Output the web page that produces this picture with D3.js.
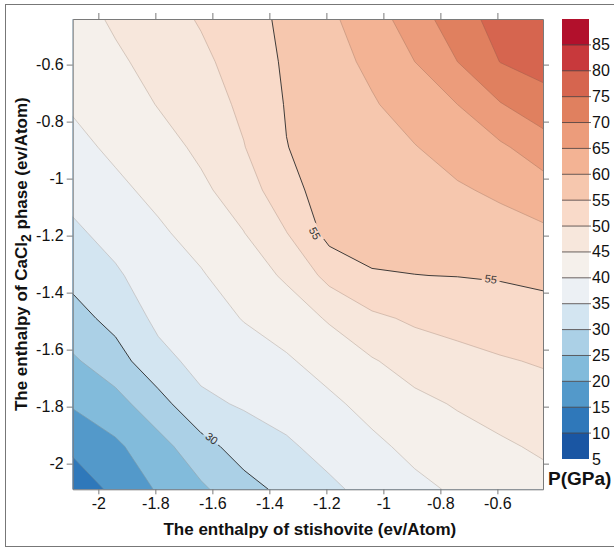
<!DOCTYPE html>
<html><head><meta charset="utf-8">
<script src="https://cdn.jsdelivr.net/npm/d3@7"></script>
<style>
body{margin:0;background:#fff}
svg{display:block}
text{font-family:"Liberation Sans",Arial,sans-serif;fill:#111}
</style>
</head><body>
<svg id="chart" width="614" height="549"></svg>
<script>
// ---- data ----
const xGrid = [-2.09,-1.94,-1.79,-1.64,-1.49,-1.34,-1.19,-1.04,-0.89,-0.74,-0.59,-0.44];
const yGrid = [-0.44,-0.59,-0.74,-0.89,-1.04,-1.19,-1.34,-1.49,-1.64,-1.79,-1.94,-2.09]; // top -> bottom
const pressure = [
  [43.0,45.7,48.0,50.4,53.1,56.0,59.1,62.8,67.5,73.0,76.7,79.5],
  [41.8,44.2,46.6,49.0,52.0,55.7,58.1,61.1,65.0,70.0,75.1,76.8],
  [40.5,42.5,45.2,47.5,51.0,55.3,57.3,59.5,62.3,65.0,69.7,73.1],
  [38.7,40.9,43.2,45.9,49.8,54.9,56.8,58.2,59.8,62.1,64.2,67.6],
  [36.5,39.0,41.2,44.1,47.3,53.5,57.0,57.1,58.2,59.4,60.9,62.9],
  [34.1,36.7,39.3,41.7,44.9,49.9,56.6,56.0,56.6,57.2,58.0,59.1],
  [31.4,34.3,37.7,39.6,42.5,45.7,51.5,54.8,54.95,55.1,55.4,56.0],
  [28.1,31.6,36.1,38.0,40.2,42.4,45.5,49.0,50.8,51.7,52.5,53.2],
  [24.3,27.9,33.5,36.4,38.0,39.4,42.0,44.6,47.0,48.5,49.6,50.4],
  [20.5,23.2,28.1,34.0,35.5,36.9,39.0,41.6,43.8,45.4,46.9,48.1],
  [16.1,19.1,23.2,28.1,32.3,34.3,36.6,38.9,41.3,43.0,44.3,45.7],
  [11.6,16.3,20.5,24.2,28.1,31.4,34.1,36.5,38.8,40.7,41.9,43.4]
];
const levels = [5,10,15,20,25,30,35,40,45,50,55,60,65,70,75,80,85,90];
const bandColors = ["#1a56a3","#2f78ba","#5399ca","#82bbdb","#abd0e6","#d3e5f1","#ecf0f4",
  "#f5f0eb","#f7e7dc","#f9dac9","#f6c7ae","#f3b394","#ec9c7b","#e0805f","#d6654f","#c8393c","#b2102c"];
const axisTicks = [-2,-1.8,-1.6,-1.4,-1.2,-1,-0.8,-0.6];
const labelledLevels = [30,55];
const lineLabels = [
  {level:55, x:-1.240, y:-1.192, angle:62},
  {level:55, x:-0.623, y:-1.352, angle:8},
  {level:30, x:-1.602, y:-1.911, angle:38}
];
const xTitle = "The enthalpy of stishovite (ev/Atom)";
const cbTitle = "P(GPa)";

// ---- layout ----
const svg = d3.select("#chart");
const L = 72.7, R = 543, T = 19, B = 489.3;
const x = d3.scaleLinear().domain([-2.09,-0.44]).range([L,R]);
const y = d3.scaleLinear().domain([-2.09,-0.44]).range([B,T]);

// outer frame
svg.append("rect").attr("x",5.5).attr("y",4.5).attr("width",700).attr("height",542)
  .attr("fill","none").attr("stroke","#777").attr("stroke-width",1);

const defs = svg.append("defs");
defs.append("clipPath").attr("id","plotclip").append("rect")
  .attr("x",L).attr("y",T).attr("width",R-L).attr("height",B-T);

// ---- contours ----
const n = xGrid.length, m = yGrid.length;
const values = pressure.flat();
const contours = d3.contours().size([n,m]).thresholds(levels.slice(0,-1))(values);
const dxs = xGrid[1]-xGrid[0], dys = yGrid[1]-yGrid[0];
const proj = d3.geoTransform({point:function(cx,cy){
  this.stream.point(x(xGrid[0]+(cx-0.5)*dxs), y(yGrid[0]+(cy-0.5)*dys));
}});
const path = d3.geoPath(proj);

const g = svg.append("g").attr("clip-path","url(#plotclip)");
g.selectAll("path.band").data(contours).join("path").attr("class","band")
  .attr("d",path)
  .attr("fill",d=>bandColors[levels.indexOf(d.value)]);

// thin contour lines
g.selectAll("path.line").data(contours.filter(d=>d.value>levels[0] && !labelledLevels.includes(d.value)))
  .join("path").attr("class","line")
  .attr("d",path).attr("fill","none")
  .attr("stroke",d=>d3.interpolateRgb(bandColors[levels.indexOf(d.value)],"#6a5a50")(0.35))
  .attr("stroke-width",0.7);

// labelled lines with gaps
const mask = defs.append("mask").attr("id","lblmask").attr("maskUnits","userSpaceOnUse")
  .attr("x",0).attr("y",0).attr("width",614).attr("height",549);
mask.append("rect").attr("width",614).attr("height",549).attr("fill","#fff");
mask.selectAll("rect.gap").data(lineLabels).join("rect").attr("class","gap")
  .attr("x",-9).attr("y",-6).attr("width",18).attr("height",12).attr("fill","#000")
  .attr("transform",d=>`translate(${x(d.x)},${y(d.y)}) rotate(${d.angle})`);
g.append("g").attr("mask","url(#lblmask)")
  .selectAll("path").data(contours.filter(d=>labelledLevels.includes(d.value)))
  .join("path").attr("d",path).attr("fill","none").attr("stroke","#2a2a2a").attr("stroke-width",0.9);
svg.selectAll("text.clabel").data(lineLabels).join("text").attr("class","clabel")
  .attr("transform",d=>`translate(${x(d.x)},${y(d.y)}) rotate(${d.angle})`)
  .attr("text-anchor","middle").attr("dominant-baseline","central")
  .style("font-size","11px").style("fill","#333").text(d=>d.level);

// ---- axes ----
const fmt = d=>String(d);
function styleAxis(sel){
  sel.selectAll("path.domain").attr("stroke","#7a7a7a");
  sel.selectAll(".tick line").attr("stroke","#7a7a7a");
  sel.selectAll(".tick text").style("font-size","16px").style("fill","#111")
    .style("font-family",'"Liberation Sans",Arial,sans-serif');
}
svg.append("g").attr("transform",`translate(0,${B})`)
  .call(d3.axisBottom(x).tickValues(axisTicks).tickFormat(fmt).tickSize(5).tickSizeOuter(0).tickPadding(3)).call(styleAxis);
svg.append("g").attr("transform",`translate(0,${T})`)
  .call(d3.axisTop(x).tickValues(axisTicks).tickFormat("").tickSize(6).tickSizeOuter(0)).call(styleAxis);
svg.append("g").attr("transform",`translate(${L},0)`)
  .call(d3.axisLeft(y).tickValues(axisTicks).tickFormat(fmt).tickSize(6).tickSizeOuter(0).tickPadding(3)).call(styleAxis);
svg.append("g").attr("transform",`translate(${R},0)`)
  .call(d3.axisRight(y).tickValues(axisTicks).tickFormat("").tickSize(6).tickSizeOuter(0)).call(styleAxis);

// titles
svg.append("text").attr("x",(L+R)/2+2).attr("y",535).attr("text-anchor","middle")
  .style("font-size","17px").style("font-weight","bold").text(xTitle);
const yt = svg.append("text").attr("transform",`translate(27,${(T+B)/2}) rotate(-90)`)
  .attr("text-anchor","middle").style("font-size","17px").style("font-weight","bold");
yt.append("tspan").text("The enthalpy of CaCl");
yt.append("tspan").attr("dy",4).style("font-size","14px").text("2");
yt.append("tspan").attr("dy",-4).text(" phase (ev/Atom)");

// ---- colorbar ----
const cbX = 562, cbW = 27;
const cy = d3.scaleLinear().domain([levels[0],levels[levels.length-1]]).range([459,19]);
const cb = svg.append("g");
cb.selectAll("rect").data(bandColors).join("rect")
  .attr("x",cbX).attr("width",cbW)
  .attr("y",(c,i)=>cy(levels[i+1])).attr("height",(c,i)=>cy(levels[i])-cy(levels[i+1]))
  .attr("fill",c=>c);
cb.selectAll("line").data(levels.slice(1,-1)).join("line")
  .attr("x1",cbX).attr("x2",cbX+cbW+2).attr("y1",d=>cy(d)).attr("y2",d=>cy(d))
  .attr("stroke","#3a3030").attr("stroke-opacity",0.75).attr("stroke-width",1);
cb.selectAll("text").data(levels.slice(0,-1)).join("text")
  .attr("x",cbX+cbW+3).attr("y",d=>cy(d)).attr("dominant-baseline","central")
  .style("font-size","16px").text(d=>d);
svg.append("text").attr("x",548).attr("y",485).style("font-size","19px").style("font-weight","bold").text(cbTitle);
</script>
</body></html>
